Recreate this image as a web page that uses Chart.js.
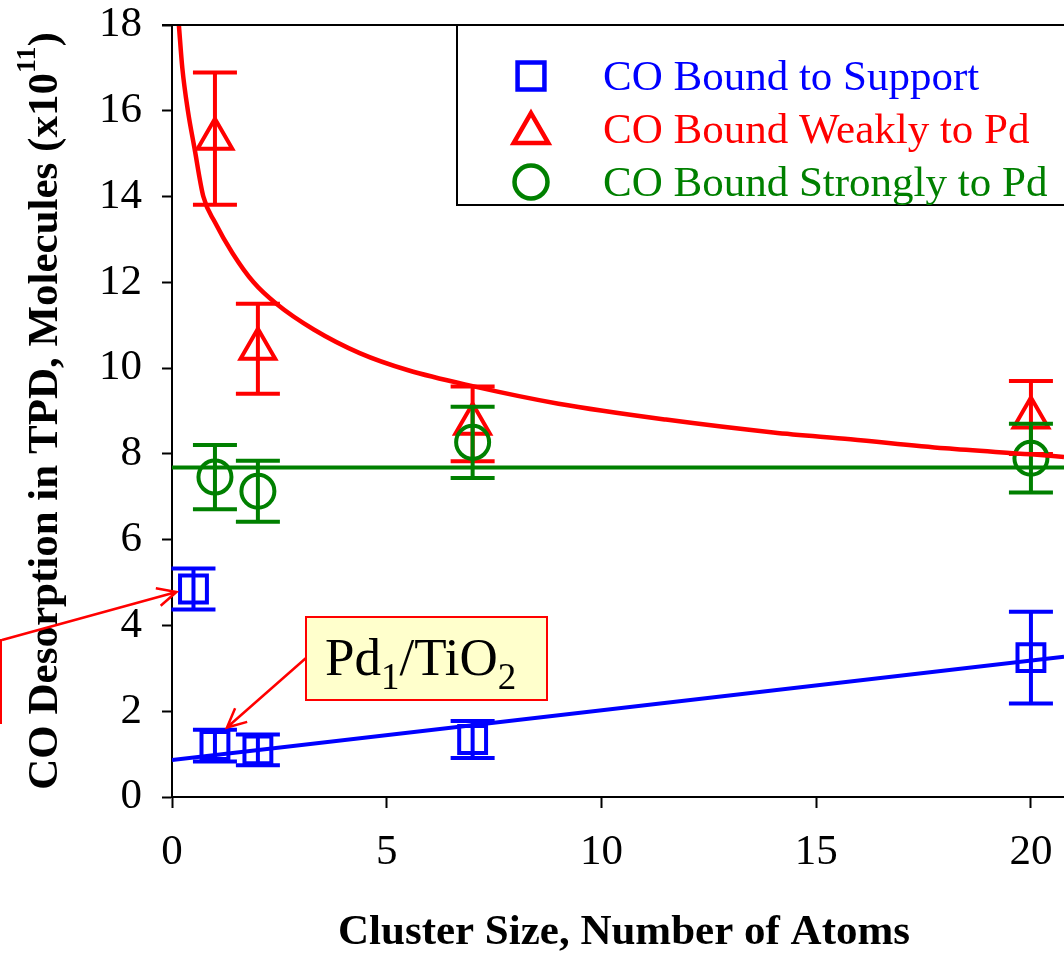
<!DOCTYPE html>
<html>
<head>
<meta charset="utf-8">
<script src="https://cdn.jsdelivr.net/npm/chart.js@4.4.1/dist/chart.umd.min.js"></script>
<style>
  html, body { margin: 0; padding: 0; background: #ffffff; overflow: hidden; }
  canvas { display: block; }
</style>
</head>
<body>
<canvas id="tpd" width="1064" height="954"></canvas>
<script>
// CO desorbed in TPD (units of 1e11 molecules) versus Pd cluster size
const supportSizes = [0.5, 1, 2, 7, 20];
const supportCO    = [4.85, 1.2, 1.1, 1.34, 3.25];
const supportErr   = [0.48, 0.37, 0.36, 0.43, 1.07];

const weakSizes = [1, 2, 7, 20];
const weakCO    = [15.35, 10.45, 8.7, 8.85];
const weakErr   = [1.54, 1.05, 0.87, 0.85];

const strongSizes = [1, 2, 7, 20];
const strongCO    = [7.46, 7.13, 8.27, 7.9];
const strongErr   = [0.75, 0.71, 0.83, 0.8];

// Trend lines through each family of points
const supportFitX = [0, 20.77];
const supportFitY = [0.86, 3.27];
const strongFitX  = [0, 20.77];
const strongFitY  = [7.68, 7.68];
const weakFitX = [0.16, 0.24, 0.37, 0.52, 0.73, 1.0, 1.41, 1.9, 2.43, 3.3, 4.37, 5.5, 7, 9, 11.5, 14, 15.8, 18, 20, 20.77];
const weakFitY = [18.0, 17.0, 16.0, 15.15, 14.0, 13.4, 12.68, 12.0, 11.5, 10.9, 10.35, 9.95, 9.58, 9.17, 8.8, 8.5, 8.34, 8.13, 7.99, 7.93];

const xTicks = [0, 5, 10, 15, 20];
const yTicks = [0, 2, 4, 6, 8, 10, 12, 14, 16, 18];

const legendLabels = ['CO Bound to Support', 'CO Bound Weakly to Pd', 'CO Bound Strongly to Pd'];
const xTitle = 'Cluster Size, Number of Atoms';
const yTitleMain = 'CO Desorption in TPD, Molecules (x10';
const yTitleSup = '11';
const yTitleEnd = ')';

const BLUE = '#0000ff', RED = '#ff0000', GREEN = '#008000';
const SERIF = "'Liberation Serif', 'Times New Roman', serif";

const pts = (xs, ys) => xs.map((x, i) => ({ x, y: ys[i] }));

// Vertical error bars with caps, drawn right after the dataset they belong to
const errorBars = {
  id: 'errorBars',
  afterDatasetDraw(chart, args) {
    const ds = chart.data.datasets[args.index];
    if (!ds.errors) return;
    const { ctx, scales: { x, y } } = chart;
    ctx.save();
    ctx.strokeStyle = ds.borderColor;
    ctx.lineWidth = 4;
    ds.data.forEach((p, i) => {
      const px = x.getPixelForValue(p.x);
      const top = y.getPixelForValue(p.y + ds.errors[i]);
      const bot = y.getPixelForValue(p.y - ds.errors[i]);
      ctx.beginPath();
      ctx.moveTo(px, top); ctx.lineTo(px, bot);
      ctx.moveTo(px - 22, top); ctx.lineTo(px + 22, top);
      ctx.moveTo(px - 22, bot); ctx.lineTo(px + 22, bot);
      ctx.stroke();
    });
    ctx.restore();
  }
};

function arrow(ctx, x0, y0, x1, y1, color) {
  const a = Math.atan2(y1 - y0, x1 - x0);
  const len = 21, spread = 0.45;
  ctx.save();
  ctx.strokeStyle = color;
  ctx.lineWidth = 2.5;
  ctx.beginPath();
  ctx.moveTo(x0, y0); ctx.lineTo(x1, y1);
  ctx.moveTo(x1 - len * Math.cos(a - spread), y1 - len * Math.sin(a - spread));
  ctx.lineTo(x1, y1);
  ctx.lineTo(x1 - len * Math.cos(a + spread), y1 - len * Math.sin(a + spread));
  ctx.stroke();
  ctx.restore();
}

// Frame top line, legend box, axis titles and callouts
const decorations = {
  id: 'decorations',
  afterDraw(chart) {
    const { ctx, chartArea: ca, scales: { x, y } } = chart;

    // top edge of the plot frame
    ctx.save();
    ctx.strokeStyle = '#000';
    ctx.lineWidth = 2;
    ctx.beginPath();
    ctx.moveTo(ca.left - 10, ca.top); ctx.lineTo(chart.width, ca.top);
    ctx.stroke();
    ctx.restore();

    // legend
    ctx.save();
    ctx.fillStyle = '#fff';
    ctx.strokeStyle = '#000';
    ctx.lineWidth = 2;
    ctx.fillRect(457, ca.top, chart.width, 180);
    ctx.strokeRect(457, ca.top, chart.width, 180);
    const markerSets = [chart.data.datasets[2], chart.data.datasets[0], chart.data.datasets[1]];
    const rowsY = [76, 129, 182];
    markerSets.forEach((ds, i) => {
      ctx.save();
      ctx.strokeStyle = ds.borderColor;
      ctx.fillStyle = 'rgba(0,0,0,0)';
      ctx.lineWidth = 4.5;
      Chart.helpers.drawPoint(ctx, {
        pointStyle: ds.pointStyle, radius: ds.pointRadius, borderWidth: 4.5, rotation: 0
      }, 531, rowsY[i] + (ds.pointStyle === 'triangle' ? 4 : 0));
      ctx.restore();
      ctx.fillStyle = ds.borderColor;
      ctx.font = '43px ' + SERIF;
      ctx.textAlign = 'left';
      ctx.textBaseline = 'alphabetic';
      ctx.fillText(ds.label, 603, rowsY[i] + 14);
    });
    ctx.restore();

    // x-axis title
    ctx.save();
    ctx.fillStyle = '#000';
    ctx.font = 'bold 43px ' + SERIF;
    ctx.textAlign = 'center';
    ctx.textBaseline = 'alphabetic';
    ctx.fillText(xTitle, 624, 944);
    ctx.restore();

    // y-axis title with superscript exponent
    ctx.save();
    ctx.fillStyle = '#000';
    ctx.translate(57, (ca.top + ca.bottom) / 2);
    ctx.rotate(-Math.PI / 2);
    const mainFont = 'bold 43px ' + SERIF, supFont = 'bold 28px ' + SERIF;
    ctx.font = mainFont; const w1 = ctx.measureText(yTitleMain).width; const w3 = ctx.measureText(yTitleEnd).width;
    ctx.font = supFont; const w2 = ctx.measureText(yTitleSup).width;
    let cx = -(w1 + w2 + w3) / 2;
    ctx.textAlign = 'left';
    ctx.textBaseline = 'alphabetic';
    ctx.font = mainFont; ctx.fillText(yTitleMain, cx, 0); cx += w1;
    ctx.font = supFont; ctx.fillText(yTitleSup, cx, -22); cx += w2;
    ctx.font = mainFont; ctx.fillText(yTitleEnd, cx, 0);
    ctx.restore();

    // callout for the bare support point (box extends past the left edge)
    ctx.save();
    ctx.fillStyle = '#ffffcc';
    ctx.strokeStyle = RED;
    ctx.lineWidth = 2;
    ctx.fillRect(-300, 640, 301, 83);
    ctx.strokeRect(-300, 640, 301, 83);
    ctx.restore();
    arrow(ctx, 2, 640,
      x.getPixelForValue(supportSizes[0]) - 17, y.getPixelForValue(supportCO[0]) + 3, RED);

    // Pd1/TiO2 callout
    ctx.save();
    ctx.fillStyle = '#ffffcc';
    ctx.strokeStyle = RED;
    ctx.lineWidth = 2;
    ctx.fillRect(306, 617, 241, 83);
    ctx.strokeRect(306, 617, 241, 83);
    ctx.fillStyle = '#000';
    ctx.textAlign = 'left';
    ctx.textBaseline = 'alphabetic';
    const big = '53px ' + SERIF, small = '37px ' + SERIF;
    let tx = 325;
    const parts = [['Pd', big, 0], ['1', small, 14], ['/TiO', big, 0], ['2', small, 14]];
    parts.forEach(([s, f, dy]) => {
      ctx.font = f;
      ctx.fillText(s, tx, 675 + dy);
      tx += ctx.measureText(s).width;
    });
    ctx.restore();
    arrow(ctx, 306, 658,
      x.getPixelForValue(supportSizes[1]) + 12, y.getPixelForValue(supportCO[1]) - 18, RED);
  }
};

new Chart(document.getElementById('tpd'), {
  type: 'scatter',
  data: {
    datasets: [
      {
        label: legendLabels[1], data: pts(weakSizes, weakCO), errors: weakErr,
        pointStyle: 'triangle', pointRadius: 20, pointBorderWidth: 4,
        borderColor: RED, pointBorderColor: RED, pointBackgroundColor: 'rgba(0,0,0,0)',
        showLine: false, order: 5
      },
      {
        label: legendLabels[2], data: pts(strongSizes, strongCO), errors: strongErr,
        pointStyle: 'circle', pointRadius: 16.5, pointBorderWidth: 4,
        borderColor: GREEN, pointBorderColor: GREEN, pointBackgroundColor: 'rgba(0,0,0,0)',
        showLine: false, order: 4
      },
      {
        label: legendLabels[0], data: pts(supportSizes, supportCO), errors: supportErr,
        pointStyle: 'rect', pointRadius: 19, pointBorderWidth: 4,
        borderColor: BLUE, pointBorderColor: BLUE, pointBackgroundColor: 'rgba(0,0,0,0)',
        showLine: false, order: 3
      },
      {
        label: 'weak fit', data: pts(weakFitX, weakFitY),
        showLine: true, borderColor: RED, borderWidth: 4.5, pointRadius: 0,
        cubicInterpolationMode: 'monotone', order: 1
      },
      {
        label: 'strong fit', data: pts(strongFitX, strongFitY),
        showLine: true, borderColor: GREEN, borderWidth: 4, pointRadius: 0, order: 2
      },
      {
        label: 'support fit', data: pts(supportFitX, supportFitY),
        showLine: true, borderColor: BLUE, borderWidth: 4, pointRadius: 0, order: 6
      }
    ]
  },
  options: {
    responsive: false,
    animation: false,
    devicePixelRatio: 1,
    layout: { autoPadding: false, padding: { top: 25, right: 0, bottom: 0, left: 0 } },
    plugins: { legend: { display: false }, tooltip: { enabled: false } },
    scales: {
      x: {
        type: 'linear', min: 0, max: 20.77,
        afterBuildTicks: (s) => { s.ticks = xTicks.map(v => ({ value: v })); },
        afterFit: (s) => { s.height = 157; s.paddingLeft = 0; s.paddingRight = 0; },
        grid: { drawOnChartArea: false, drawTicks: true, tickLength: 11, tickWidth: 2, tickColor: '#000' },
        border: { display: true, color: '#000', width: 2 },
        ticks: { color: '#000', font: { family: SERIF, size: 43 }, padding: 19, maxRotation: 0, includeBounds: false }
      },
      y: {
        type: 'linear', min: 0, max: 18,
        afterBuildTicks: (s) => { s.ticks = yTicks.map(v => ({ value: v })); },
        afterFit: (s) => { s.width = 172; s.paddingTop = 0; s.paddingBottom = 0; },
        grid: { drawOnChartArea: false, drawTicks: true, tickLength: 10, tickWidth: 2, tickColor: '#000' },
        border: { display: true, color: '#000', width: 2 },
        ticks: { color: '#000', font: { family: SERIF, size: 43 }, padding: 20 }
      }
    }
  },
  plugins: [errorBars, decorations]
});
</script>
</body>
</html>
